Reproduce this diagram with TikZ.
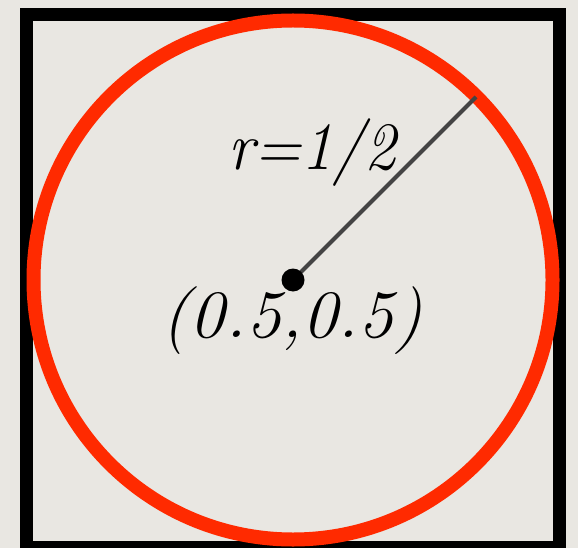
\documentclass[tikz,border=0pt]{standalone}
\usepackage{graphicx}
\definecolor{paper}{HTML}{E9E7E2}
\definecolor{ringred}{HTML}{FF2A00}
\definecolor{radgray}{HTML}{444444}
\tikzset{
  lbl/.style={anchor=base, inner sep=0pt, font=\fontsize{68}{80}\selectfont\itshape},
}
\begin{document}
\begin{tikzpicture}[x=1bp,y=-1bp]
  \fill[paper] (0,0) rectangle (578,548);
  \useasboundingbox (0,0) rectangle (578,548);
  \draw[line width=13bp] (26.5,14.5) rectangle (559.5,547.5);
  \coordinate (c) at (293,280);
  \draw[ringred, line width=14bp] (c) circle[radius=259.5];
  \coordinate (rim) at (476,97);
  \draw[radgray, line width=4bp] (c) -- (rim);
  \node[circle, fill=black, inner sep=0pt, minimum size=23bp] (dot) at (c) {};
  \node[lbl] (rlabel) at (312,170) {\scalebox{0.93}[1]{r=1/2}};
  \node[lbl] (clabel) at (292,337) {\scalebox{1.04}[1]{(0.5,0.5)}};
\end{tikzpicture}
\end{document}
